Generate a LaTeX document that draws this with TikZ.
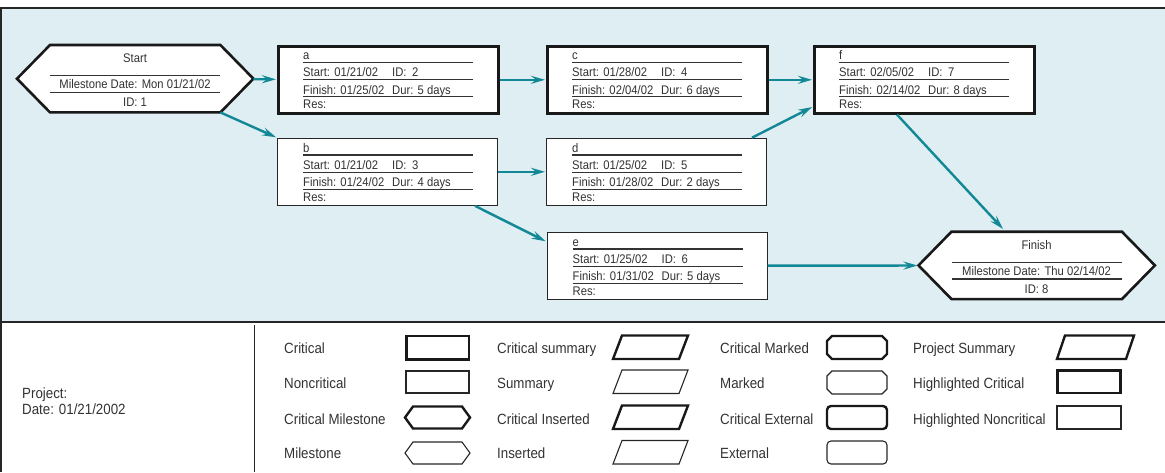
\documentclass[tikz,border=0pt]{standalone}
\usepackage{fontspec}
\setmainfont{Liberation Sans}[FakeStretch=0.9]
\usetikzlibrary{arrows.meta}
\definecolor{pertbg}{RGB}{222,238,242}
\definecolor{pertarrow}{RGB}{18,136,150}
\definecolor{perttext}{RGB}{50,50,50}
\tikzset{
  critbox/.style={draw=black!90, line width=2.6pt, fill=white},
  normbox/.style={draw=black!85, line width=1.2pt, fill=white},
  boxsize/.style={minimum width=220pt, minimum height=67pt, inner sep=0pt, anchor=north west},
  msize/.style={minimum width=236pt, minimum height=67pt, inner sep=0pt, anchor=north west},
  rowline/.style={draw=black!80, line width=1.1pt},
  rowtxt/.style={anchor=base west, inner sep=0pt, text=perttext, font=\fontsize{12.5}{14}\selectfont},
  link/.style={draw=pertarrow, line width=2.4pt, -{Stealth[length=14pt,width=8pt,inset=5pt]}, shorten >=1pt},
  keytxt/.style={anchor=base west, inner sep=0pt, text=perttext, font=\fontsize{14.8}{17}\selectfont},
  keythick/.style={draw=black!90, line width=2.4pt, line join=miter},
  keythin/.style={draw=black!85, line width=1.1pt},
}
\begin{document}
\begin{tikzpicture}[x=1pt, y=-1pt]
  \useasboundingbox (0,0) rectangle (1165,472);
  % panels
  \fill[pertbg] (0,8) rectangle (1165,322);
  \draw[black!85, line width=1.5pt] (0,8) -- (1165,8);
  \draw[black!85, line width=1.5pt] (1,8) -- (1,472);
  \draw[black!85, line width=1.5pt] (0,322) -- (1165,322);
  \draw[black!85, line width=1.2pt] (254.5,325) -- (254.5,472);

  % milestones
  \foreach \n/\x/\y/\lab/\md/\tid in {st/17/45/Start/{Mon 01/21/02}/1, fin/918.5/231.7/Finish/{Thu 02/14/02}/8} {
    \begin{scope}[shift={(\x,\y)}]
      \node[msize] (\n) at (0,0) {};
      \draw[critbox] (\n.west) -- ([xshift=33pt]\n.north west) -- ([xshift=-33pt]\n.north east)
        -- (\n.east) -- ([xshift=-33pt]\n.south east) -- ([xshift=33pt]\n.south west) -- cycle;
      \draw[rowline] (33,30.5) -- (203,30.5);
      \draw[rowline] (33,47.3) -- (203,47.3);
      \node[rowtxt, anchor=base] (\n-name) at (118,17.5) {\lab};
      \node[rowtxt, anchor=base] (\n-date) at (118,43.8) {Milestone Date: \md};
      \node[rowtxt, anchor=base] (\n-id) at (118,61.3) {ID: \tid};
    \end{scope}}

  % tasks
  \foreach \n/\x/\y/\sdate/\tid/\fdate/\tdur/\tsty in {
      a/277/45/{01/21/02}/2/{01/25/02}/5/critbox,
      b/277/137.7/{01/21/02}/3/{01/24/02}/4/normbox,
      c/546/45/{01/28/02}/4/{02/04/02}/6/critbox,
      d/546/137.7/{01/25/02}/5/{01/28/02}/2/normbox,
      e/546.5/231.7/{01/25/02}/6/{01/31/02}/5/normbox,
      f/813/45/{02/05/02}/7/{02/14/02}/8/critbox} {
    \begin{scope}[shift={(\x,\y)}]
      \node[boxsize, \tsty] (\n) at (0,0) {};
      \foreach \ly in {17.3, 34.5, 51.7}
        \draw[rowline] (26,\ly) -- (196,\ly);
      \node[rowtxt] (\n-name) at (26,14.8) {\n};
      \node[rowtxt] (\n-start) at (26,31.9) {Start: \sdate};
      \node[rowtxt] (\n-idl) at (115,31.9) {ID:};
      \node[rowtxt] (\n-id) at (135,31.9) {\tid};
      \node[rowtxt] (\n-finish) at (26,49.1) {Finish: \fdate};
      \node[rowtxt] (\n-dur) at (115,49.1) {Dur: \tdur\ days};
      \node[rowtxt] (\n-res) at (26,63.5) {Res:};
    \end{scope}}

  % links
  \draw[link] (st) -- (a);
  \draw[link] ([xshift=-33pt]st.south east) -- (b.north west);
  \draw[link] (a) -- (c);
  \draw[link] (b) -- (d);
  \draw[link] ([xshift=198pt]b.south west) -- ([yshift=-10pt]e.north west);
  \draw[link] (c) -- (f);
  \draw[link] ([xshift=206pt]d.north west) -- ([yshift=8pt]f.south west);
  \draw[link] ([xshift=84pt]f.south west) -- ([xshift=-33pt,yshift=2pt]fin.north);
  \draw[link] (e) -- (fin);

  % legend
  \node[keytxt] (proj) at (22,398.7) {Project:};
  \node[keytxt] (pdate) at (22,414) {Date: 01/21/2002};
  \foreach \lx/\ly/\t [count=\i] in {
      284/353.3/Critical, 284/388.3/Noncritical, 284/424/Critical Milestone, 284/458.3/Milestone,
      497/353.3/Critical summary, 497/388.3/Summary, 497/424/Critical Inserted, 497/458.3/Inserted,
      720/353.3/Critical Marked, 720/388.3/Marked, 720/424/Critical External, 720/458.3/External,
      913/353.3/Project Summary, 913/388.3/Highlighted Critical, 913/424/Highlighted Noncritical}
    \node[keytxt] (key\i) at (\lx,\ly) {\t};

  \draw[keythick] (406.5,336) rectangle (469,359.5);
  \draw[keythin] (406,371) rectangle (469,393);
  \foreach \yy/\sty in {417.5/keythick, 453/keythin}
    \draw[\sty] (405,\yy) -- ++(8,-11) -- ++(49,0) -- ++(8,11) -- ++(-8,11) -- ++(-49,0) -- cycle;
  \foreach \yy/\sty in {359/keythick, 393.5/keythin, 429/keythick, 464/keythin}
    \draw[\sty] (613,\yy) -- ++(9,-23.5) -- ++(66,0) -- ++(-9,23.5) -- cycle;
  \foreach \yy/\sty in {336/keythick, 371/keythin}
    \draw[\sty] (832,\yy) -- (882,\yy) -- (887,\yy+5) -- (887,\yy+18) -- (882,\yy+23)
      -- (832,\yy+23) -- (827,\yy+18) -- (827,\yy+5) -- cycle;
  \foreach \yy/\sty in {406/keythick, 441/keythin}
    \draw[\sty, rounded corners=4pt] (827,\yy) rectangle (887,\yy+23);
  \draw[keythick] (1057,359) -- ++(8,-23.5) -- ++(69,0) -- ++(-8,23.5) -- cycle;
  \draw[keythick] (1057.5,370.5) rectangle (1120.5,393);
  \draw[keythin] (1057,406) rectangle (1121,429);
\end{tikzpicture}
\end{document}
